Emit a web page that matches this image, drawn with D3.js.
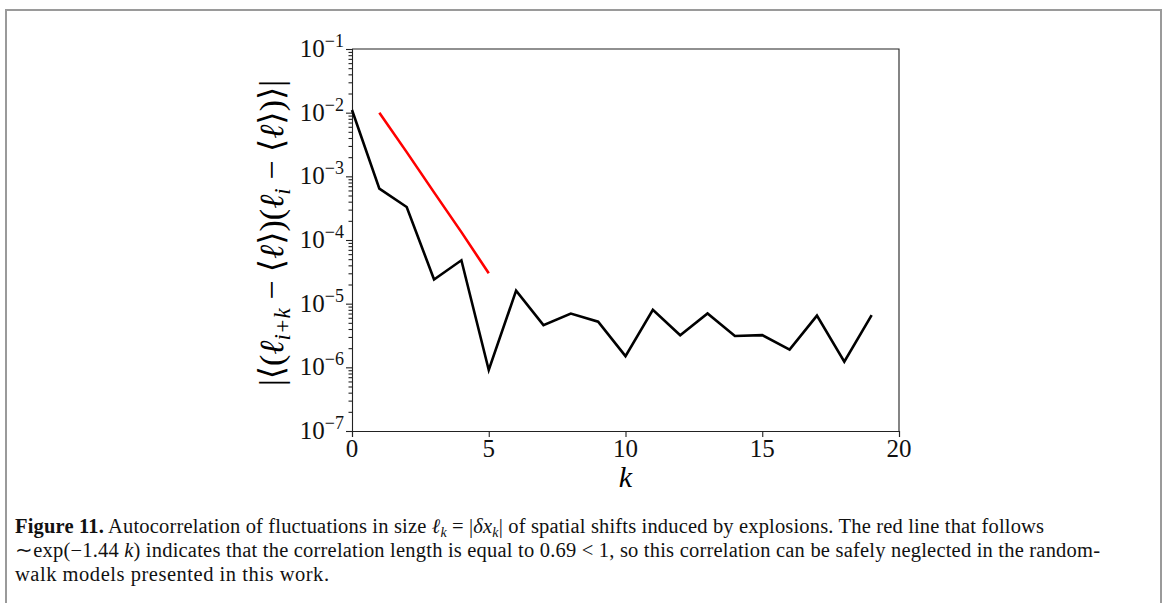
<!DOCTYPE html>
<html>
<head>
<meta charset="utf-8">
<script src="https://cdn.jsdelivr.net/npm/d3@7"></script>
<style>
  body { margin: 0; background: #fff; }
  svg { display: block; }
</style>
</head>
<body>
<svg id="figure" width="1166" height="607"></svg>
<script>
// lag k and measured autocorrelation |<(l_{i+k}-<l>)(l_i-<l>)>|
const kValues = [0, 1, 2, 3, 4, 5, 6, 7, 8, 9, 10, 11, 12, 13, 14, 15, 16, 17, 18, 19];
const autocorr = [1.1e-2, 6.4e-4, 3.3e-4, 2.4e-5, 4.8e-5, 9.1e-7, 1.6e-5, 4.6e-6, 7.0e-6, 5.2e-6,
    1.5e-6, 8.0e-6, 3.2e-6, 7.0e-6, 3.1e-6, 3.2e-6, 1.9e-6, 6.5e-6, 1.23e-6, 6.6e-6];

// red guide line ~exp(-1.44 k)
const fitK = [1, 2, 3, 4, 5];
const fitValues = [1.0e-2, 2.4e-3, 5.6e-4, 1.33e-4, 3.0e-5];

const xTicks = [0, 5, 10, 15, 20];
const yTicks = [1e-7, 1e-6, 1e-5, 1e-4, 1e-3, 1e-2, 1e-1];
const yTickExp = ["−7", "−6", "−5", "−4", "−3", "−2", "−1"];
const minorMult = [2, 3, 4, 5, 6, 7, 8, 9];

const plot = { left: 352, right: 899, top: 49, bottom: 431 };
const mathFont = "'Liberation Serif', 'DejaVu Serif', serif";

const svg = d3.select("#figure");

// page frame
svg.append("path")
    .attr("d", "M6,603 V10 H1161 V603")
    .attr("fill", "none")
    .attr("stroke", "#9a9a9a")
    .attr("stroke-width", 2);

const xScale = d3.scaleLinear()
    .domain([0, 20])
    .range([plot.left, plot.right]);

const yScale = d3.scaleLog()
    .domain([1e-7, 1e-1])
    .range([plot.bottom, plot.top]);

const minorTicks = [];
yTicks.slice(0, -1).forEach(t => minorMult.forEach(m => minorTicks.push(t * m)));

// axes
const xAxis = g => g
    .attr("transform", `translate(0,${plot.bottom})`)
    .call(d3.axisBottom(xScale).tickValues(xTicks).tickSize(6).tickFormat(""));

const yAxis = g => g
    .attr("transform", `translate(${plot.left},0)`)
    .call(d3.axisLeft(yScale).tickValues(yTicks).tickSize(6).tickFormat(""));

const yMinor = g => g
    .attr("transform", `translate(${plot.left},0)`)
    .call(d3.axisLeft(yScale).tickValues(minorTicks).tickSize(3.5).tickFormat(""))
    .call(g => g.select(".domain").remove());

[xAxis, yAxis, yMinor].forEach(a => {
    svg.append("g").call(a)
        .call(g => g.selectAll("line,path").attr("stroke", "#222").attr("stroke-width", 1.1));
});

// top and right spines
svg.append("path")
    .attr("d", `M${plot.left},${plot.top} H${plot.right} V${plot.bottom}`)
    .attr("fill", "none")
    .attr("stroke", "#222")
    .attr("stroke-width", 1.1);

// x tick labels
svg.append("g")
    .selectAll("text")
    .data(xTicks)
    .join("text")
    .attr("x", d => xScale(d))
    .attr("y", plot.bottom + 26)
    .attr("text-anchor", "middle")
    .attr("font-family", mathFont)
    .attr("font-size", 25)
    .attr("fill", "#111")
    .text(d => d);

// y tick labels 10^n
const yLab = svg.append("g")
    .selectAll("text")
    .data(yTicks)
    .join("text")
    .attr("x", plot.left - 8)
    .attr("y", d => yScale(d) + 8)
    .attr("text-anchor", "end")
    .attr("font-family", mathFont)
    .attr("font-size", 25)
    .attr("fill", "#111");
yLab.append("tspan").text("10");
yLab.append("tspan")
    .attr("dy", -10)
    .attr("font-size", 18)
    .text((d, i) => yTickExp[i]);

// axis titles
svg.append("text")
    .attr("x", (plot.left + plot.right) / 2)
    .attr("y", plot.bottom + 56)
    .attr("text-anchor", "middle")
    .attr("font-family", mathFont)
    .attr("font-style", "italic")
    .attr("font-size", 30)
    .text("k");

const yTitle = svg.append("text")
    .attr("transform", `translate(283,${(plot.top + plot.bottom) / 2 - 7}) rotate(-90)`)
    .attr("text-anchor", "middle")
    .attr("font-family", mathFont)
    .attr("font-size", 34);
const ypart = (t, opt = {}) => {
    const s = yTitle.append("tspan").text(t);
    if (opt.it) s.attr("font-style", "italic");
    if (opt.size) s.attr("font-size", opt.size);
    if (opt.dy) s.attr("dy", opt.dy);
    return s;
};
ypart("|⟨(");
ypart("ℓ", { it: true });
ypart("i+k", { it: true, size: 23, dy: 7 });
ypart(" − ⟨", { dy: -7 });
ypart("ℓ", { it: true });
ypart("⟩)(");
ypart("ℓ", { it: true });
ypart("i", { it: true, size: 23, dy: 7 });
ypart(" − ⟨", { dy: -7 });
ypart("ℓ", { it: true });
ypart("⟩)⟩|");

// data lines
const line = d3.line()
    .x(d => xScale(d[0]))
    .y(d => yScale(d[1]));

svg.append("path")
    .datum(kValues.map((k, i) => [k, autocorr[i]]))
    .attr("d", line)
    .attr("fill", "none")
    .attr("stroke", "#000")
    .attr("stroke-width", 2.6)
    .attr("stroke-linejoin", "miter");

svg.append("path")
    .datum(fitK.map((k, i) => [k, fitValues[i]]))
    .attr("d", line)
    .attr("fill", "none")
    .attr("stroke", "#ff0000")
    .attr("stroke-width", 2.6);

// caption
const capFont = "'Liberation Serif', 'Times New Roman', serif";
const cap = (y, len) => svg.append("text")
    .attr("x", 15)
    .attr("y", y)
    .attr("font-family", capFont)
    .attr("font-size", 20.5)
    .attr("fill", "#111")
    .attr("textLength", len)
    .attr("lengthAdjust", "spacing");
const part = (t, s, opt = {}) => {
    const p = t.append("tspan").text(s);
    if (opt.b) p.attr("font-weight", "bold");
    if (opt.it) p.attr("font-style", "italic");
    if (opt.size) p.attr("font-size", opt.size);
    if (opt.dy) p.attr("dy", opt.dy);
    return p;
};

const line1 = cap(533, 1029);
part(line1, "Figure 11.", { b: true });
part(line1, " Autocorrelation of fluctuations in size ");
part(line1, "ℓ", { it: true });
part(line1, "k", { it: true, size: 14, dy: 4 });
part(line1, " = |", { dy: -4 });
part(line1, "δx", { it: true });
part(line1, "k", { it: true, size: 14, dy: 4 });
part(line1, "| of spatial shifts induced by explosions. The red line that follows", { dy: -4 });

const line2 = cap(557, 1085);
part(line2, "∼exp(−1.44 ");
part(line2, "k", { it: true });
part(line2, ") indicates that the correlation length is equal to 0.69 < 1, so this correlation can be safely neglected in the random-");

const line3 = cap(581, 314);
part(line3, "walk models presented in this work.");
</script>
</body>
</html>
